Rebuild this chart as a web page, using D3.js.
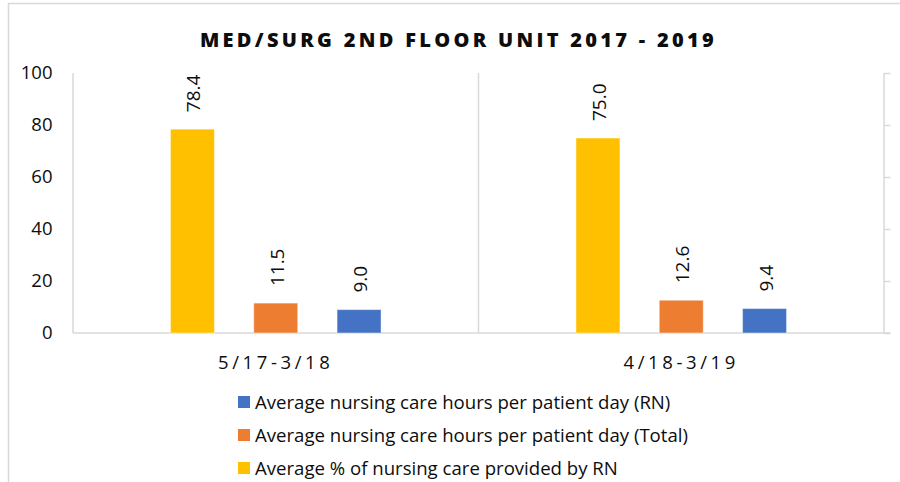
<!DOCTYPE html>
<html>
<head>
<meta charset="utf-8">
<script src="https://cdn.jsdelivr.net/npm/d3@7"></script>
<style>
  html, body { margin: 0; padding: 0; background: #fff; }
  svg { display: block; font-family: "Open Sans", sans-serif; }
</style>
</head>
<body>
<svg id="chart" width="900" height="482"></svg>
<script>
const title = "MED/SURG 2ND FLOOR UNIT 2017 - 2019";
const categories = ["5/17-3/18", "4/18-3/19"];
const seriesKeys = ["pct", "total", "rn"];
const seriesNames = [
  "Average % of nursing care provided by RN",
  "Average nursing care hours per patient day (Total)",
  "Average nursing care hours per patient day (RN)"
];
const pctRN = [78.4, 75.0];
const hoursTotal = [11.5, 12.6];
const hoursRN = [9.0, 9.4];
const seriesColors = ["#FFC000", "#ED7D31", "#4472C4"];
const yTicks = [0, 20, 40, 60, 80, 100];
const legendOrder = [2, 1, 0];

const seriesValues = [pctRN, hoursTotal, hoursRN];

const svg = d3.select("#chart");
const plot = { left: 73, right: 884, top: 73, bottom: 333 };
const grid = "#d9d9d9";

// outer border
svg.append("rect").attr("x", 8.5).attr("y", 3.5).attr("width", 920).attr("height", 520)
  .attr("fill", "none").attr("stroke", grid).attr("stroke-width", 1.5);

// title
svg.append("text").attr("x", 458.5).attr("y", 47).attr("text-anchor", "middle")
  .attr("font-size", 20).attr("font-weight", 800).attr("letter-spacing", 3.3)
  .attr("fill", "#0d0d0d").text(title);

const x = d3.scaleBand().domain(categories).range([plot.left, plot.right]).padding(0);
const inner = d3.scaleBand().domain(seriesKeys).range([0, x.bandwidth()])
  .paddingInner(0.472).paddingOuter(1.17);
const y = d3.scaleLinear().domain([0, 100]).range([plot.bottom, plot.top]);

// vertical category separators
const seps = categories.map(c => x(c)).concat([x(categories[categories.length - 1]) + x.bandwidth()]);
svg.append("g").selectAll("line").data(seps).join("line")
  .attr("x1", d => d).attr("x2", d => d)
  .attr("y1", y(100)).attr("y2", y(0))
  .attr("stroke", grid).attr("stroke-width", 1.5);

// right ticks (secondary axis, no labels)
const rAxis = svg.append("g").attr("transform", `translate(${plot.right},0)`)
  .call(d3.axisRight(y).tickValues(yTicks).tickSize(6.5).tickFormat(""));
rAxis.select(".domain").remove();
rAxis.selectAll("line").attr("stroke", grid).attr("stroke-width", 1.5);

// baseline
svg.append("line").attr("x1", plot.left).attr("x2", plot.right + 6.5)
  .attr("y1", y(0)).attr("y2", y(0)).attr("stroke", grid).attr("stroke-width", 1.5);

// left axis labels
const lAxis = svg.append("g").attr("transform", `translate(${plot.left},0)`)
  .call(d3.axisLeft(y).tickValues(yTicks).tickSize(0).tickPadding(20.5));
lAxis.select(".domain").remove();
lAxis.selectAll("text").attr("font-size", 18.5).attr("font-family", "Open Sans, sans-serif")
  .attr("fill", "#0d0d0d");

// category labels
svg.append("g").selectAll("text").data(categories).join("text")
  .attr("x", d => x(d) + x.bandwidth() / 2).attr("y", 368.5)
  .attr("text-anchor", "middle").attr("font-size", 18.5).attr("letter-spacing", 3.6)
  .attr("fill", "#0d0d0d").text(d => d);

// bars
const data = [];
categories.forEach((c, ci) => {
  seriesKeys.forEach((k, si) => {
    data.push({ cat: c, key: k, value: seriesValues[si][ci], color: seriesColors[si] });
  });
});

svg.append("g").selectAll("rect").data(data).join("rect")
  .attr("x", d => x(d.cat) + inner(d.key))
  .attr("y", d => y(d.value))
  .attr("width", inner.bandwidth())
  .attr("height", d => y(0) - y(d.value))
  .attr("fill", d => d.color)
  .attr("stroke", "#ffffff").attr("stroke-opacity", 0.45).attr("stroke-width", 1);

// data labels
svg.append("g").selectAll("text").data(data).join("text")
  .attr("transform", d => `translate(${x(d.cat) + inner(d.key) + inner.bandwidth() / 2 + 1},${y(d.value) - 17}) rotate(-90)`)
  .attr("dominant-baseline", "central")
  .attr("font-size", 19).attr("fill", "#0d0d0d")
  .text(d => d3.format(".1f")(d.value));

// legend
const legend = svg.append("g");
legendOrder.forEach((si, i) => {
  const cy = 402 + i * 33;
  legend.append("rect").attr("x", 238).attr("y", cy - 6).attr("width", 12).attr("height", 12)
    .attr("fill", seriesColors[si]);
  legend.append("text").attr("x", 255).attr("y", cy + 6.5)
    .attr("font-size", 18.6).attr("fill", "#0d0d0d").text(seriesNames[si]);
});
</script>
</body>
</html>
